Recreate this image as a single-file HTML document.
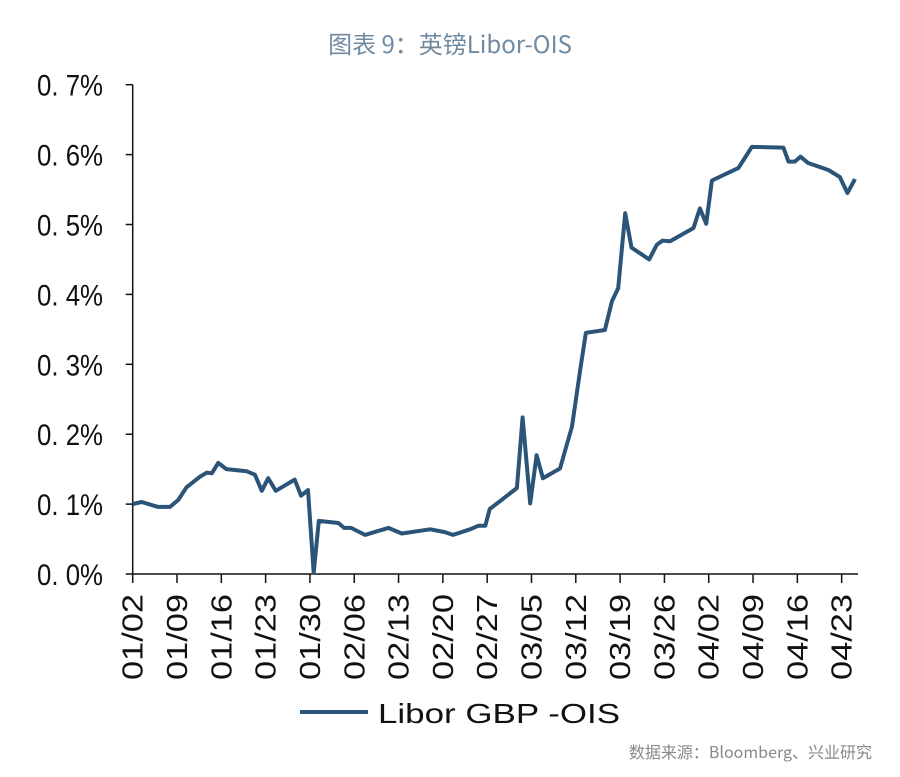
<!DOCTYPE html>
<html><head><meta charset="utf-8"><style>
body{margin:0;background:#fff;width:900px;height:777px;overflow:hidden}
svg{display:block}
</style></head><body>
<svg id="chart" width="900" height="777" xmlns="http://www.w3.org/2000/svg">
<text x="450" y="53" text-anchor="middle" font-family="'Noto Sans CJK SC',sans-serif" font-size="24" fill="#6f8aa0">图表 9：英镑Libor-OIS</text>
<g id="axes"></g>
<g id="series"></g>
<g>
<line x1="300" y1="712" x2="368" y2="712" stroke="#2a5478" stroke-width="4"/>
<text x="378" y="723" textLength="242" lengthAdjust="spacingAndGlyphs" font-family="'Liberation Sans',sans-serif" font-size="28" fill="#111">Libor GBP -OIS</text>
</g>
<text x="872" y="758" text-anchor="end" font-family="'Noto Sans CJK SC',sans-serif" font-size="16" fill="#888">数据来源：Bloomberg、兴业研究</text>
</svg>
<script>
const days=[0,1.4,4,5.9,7.2,8.5,10.6,11.7,12.5,13.5,14.8,18,19.3,20.4,21.4,22.6,25.6,26.6,27.7,28.6,29.4,32.5,33.4,34.5,36.7,40.4,42.5,47,49.3,50.6,53.3,54.6,55.7,56.4,58,60.7,61.6,62.8,63.8,64.8,67.5,69.4,70.7,71.6,74.6,75.7,76.7,77.8,78.8,81.6,82.8,83.7,84.9,88.6,89.6,90.6,91.5,95.7,97.8,102.8,103.6,104.6,105.5,106.7,109.9,111.7,112.9,114.1];
const values=[0.100,0.103,0.096,0.096,0.106,0.124,0.139,0.145,0.144,0.159,0.150,0.147,0.142,0.119,0.137,0.119,0.135,0.112,0.120,0.002,0.076,0.073,0.066,0.066,0.056,0.066,0.058,0.064,0.060,0.056,0.064,0.069,0.069,0.093,0.104,0.123,0.224,0.101,0.170,0.137,0.151,0.211,0.292,0.345,0.349,0.390,0.409,0.516,0.467,0.450,0.471,0.477,0.476,0.495,0.523,0.501,0.563,0.581,0.611,0.610,0.590,0.590,0.597,0.588,0.578,0.568,0.545,0.565];
const yTicks=[0,0.1,0.2,0.3,0.4,0.5,0.6,0.7];
const xTickLabels=["01/02","01/09","01/16","01/23","01/30","02/06","02/13","02/20","02/27","03/05","03/12","03/19","03/26","04/02","04/09","04/16","04/23"];
const xTickDays=[0,7,14,21,28,35,42,49,56,63,70,77,84,91,98,105,112];

const NS="http://www.w3.org/2000/svg";
const X0=132.7,PX_DAY=6.33,Y0=574,PX_UNIT=699;
const xs=d=>X0+d*PX_DAY;
const ys=v=>Y0-v*PX_UNIT;
const axes=document.getElementById('axes');
function mk(tag,attrs,parent){const e=document.createElementNS(NS,tag);for(const k in attrs)e.setAttribute(k,attrs[k]);parent.appendChild(e);return e;}
let l=mk('line',{x1:X0,y1:ys(0.7),x2:X0,y2:Y0,stroke:'#111','stroke-width':1.5},axes);


l=mk('line',{x1:X0,y1:Y0,x2:858,y2:Y0,stroke:'#111','stroke-width':1.5},axes);


yTicks.forEach(v=>{
  const t=mk('line',{x1:X0-7,y1:ys(v),x2:X0,y2:ys(v),stroke:'#111','stroke-width':1.5},axes);
  
  
  const tx=mk('text',{x:37,y:ys(v)+11,textLength:66,lengthAdjust:'spacingAndGlyphs','font-family':"'Liberation Sans',sans-serif",'font-size':30,fill:'#111'},axes);
  tx.textContent=v.toFixed(1).replace('.','. ')+'%';
  
  
});
xTickDays.forEach((d,i)=>{
  const x=xs(d);
  const t=mk('line',{x1:x,y1:Y0,x2:x,y2:Y0+9,stroke:'#111','stroke-width':1.5},axes);
  
  
  const tx=mk('text',{x:0,y:0,textLength:86,lengthAdjust:'spacingAndGlyphs','font-family':"'Liberation Sans',sans-serif",'font-size':29,fill:'#111',transform:`translate(${x+10},${Y0+106}) rotate(-90)`},axes);
  tx.textContent=xTickLabels[i];
  
  
});
const pts=days.map((d,i)=>xs(d).toFixed(1)+','+ys(values[i]).toFixed(1)).join(' ');
const pl=mk('polyline',{points:pts,fill:'none',stroke:'#2a5478','stroke-width':4,'stroke-linejoin':'round'},document.getElementById('series'));


</script>
</body></html>
